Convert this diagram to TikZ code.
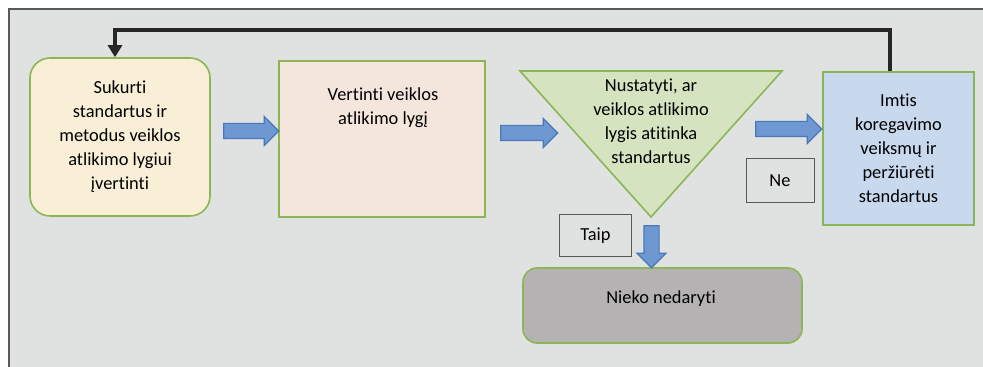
\documentclass[tikz,border=0pt]{standalone}
\usepackage{fontspec}
\setmainfont{Carlito}[Ligatures=NoCommon]
\usetikzlibrary{shapes.arrows,arrows.meta}

\definecolor{panelgray}{HTML}{E0E1E1}
\definecolor{leafgreen}{HTML}{8CB656}
\definecolor{creamfill}{HTML}{F8EFD6}
\definecolor{rosefill}{HTML}{F5E6DD}
\definecolor{sagefill}{HTML}{D5E3C1}
\definecolor{skyfill}{HTML}{C8D9EE}
\definecolor{stonefill}{HTML}{B4B2B3}
\definecolor{arrowblue}{HTML}{6E98D2}
\definecolor{arrowedge}{HTML}{4A78B8}

\begin{document}
\begin{tikzpicture}[x=0.5pt,y=-0.5pt,font=\fontsize{9.2}{12}\selectfont,
  stepbox/.style={draw=leafgreen, line width=0.8pt, align=center,
                  fill=#1, inner sep=0pt},
  tag/.style={draw=black!65, line width=0.5pt, minimum width=36pt,
              minimum height=21pt, inner sep=0pt},
  blockarrow/.style={single arrow, draw=arrowedge, fill=arrowblue,
                     line width=0.6pt, inner sep=3.5pt, minimum width=14pt,
                     single arrow head extend=3.5pt, minimum height=#1},
  feedback/.style={draw=black!85, line width=2pt,
                   -{Triangle[width=7pt,length=6pt]}}
]
  \useasboundingbox (0,0) rectangle (983,367);
  \clip (0,0) rectangle (983,367);
  \fill[panelgray] (9,9) rectangle (990,380);
  \draw[black!65, line width=0.6pt] (9,380) -- (9,9) -- (990,9);

  % process steps
  \node[stepbox=creamfill, rounded corners=10pt, minimum width=90pt,
        minimum height=79pt] (create) at (120,137)
        {Sukurti\\standartus ir\\metodus veiklos\\atlikimo lygiui\\įvertinti};
  \node[stepbox=rosefill, minimum width=103pt, minimum height=78pt]
        (measure) at (382,139) {};
  \node[align=center] (measuretxt) at (383,108)
        {Vertinti veiklos\\atlikimo lygį};
  \coordinate (triL) at (520,71);
  \coordinate (triR) at (782,71);
  \coordinate (triB) at (651,217);
  \draw[draw=leafgreen, line width=0.8pt, fill=sagefill]
        (triL) -- (triR) -- (triB) -- cycle;
  \node[align=center] (compare) at (651,121)
        {Nustatyti, ar\\veiklos atlikimo\\lygis atitinka\\standartus};
  \node[stepbox=skyfill, minimum width=75.5pt, minimum height=76.5pt]
        (correct) at (898.5,148.5)
        {Imtis\\koregavimo\\veiksmų ir\\peržiūrėti\\standartus};
  \node[stepbox=stonefill, rounded corners=7pt, minimum width=139.5pt,
        minimum height=37.5pt] (nothing) at (662.5,305.5) {};
  \node (nothingtxt) at (661,299) {Nieko nedaryti};

  % answers
  \node[tag] (yes) at (595.5,235.5) {Taip};
  \node[tag, minimum width=34pt, minimum height=22pt] (no) at (780,181) {Ne};

  % block arrows
  \node[blockarrow=27.5pt] (arrA) at (247.5,131) {};
  \node[blockarrow=28.5pt] (arrB) at (525.5,133) {};
  \node[blockarrow=33pt] (arrC) at (785,129) {};
  \node[blockarrow=21pt, shape border rotate=270] (arrD) at (651.5,243) {};

  % feedback loop
  \coordinate (fbR) at (890,30);
  \coordinate (fbL) at (115,30);
  \draw[feedback] (correct.north -| fbR) |- (fbL) -- (fbL |- create.north);
\end{tikzpicture}
\end{document}
